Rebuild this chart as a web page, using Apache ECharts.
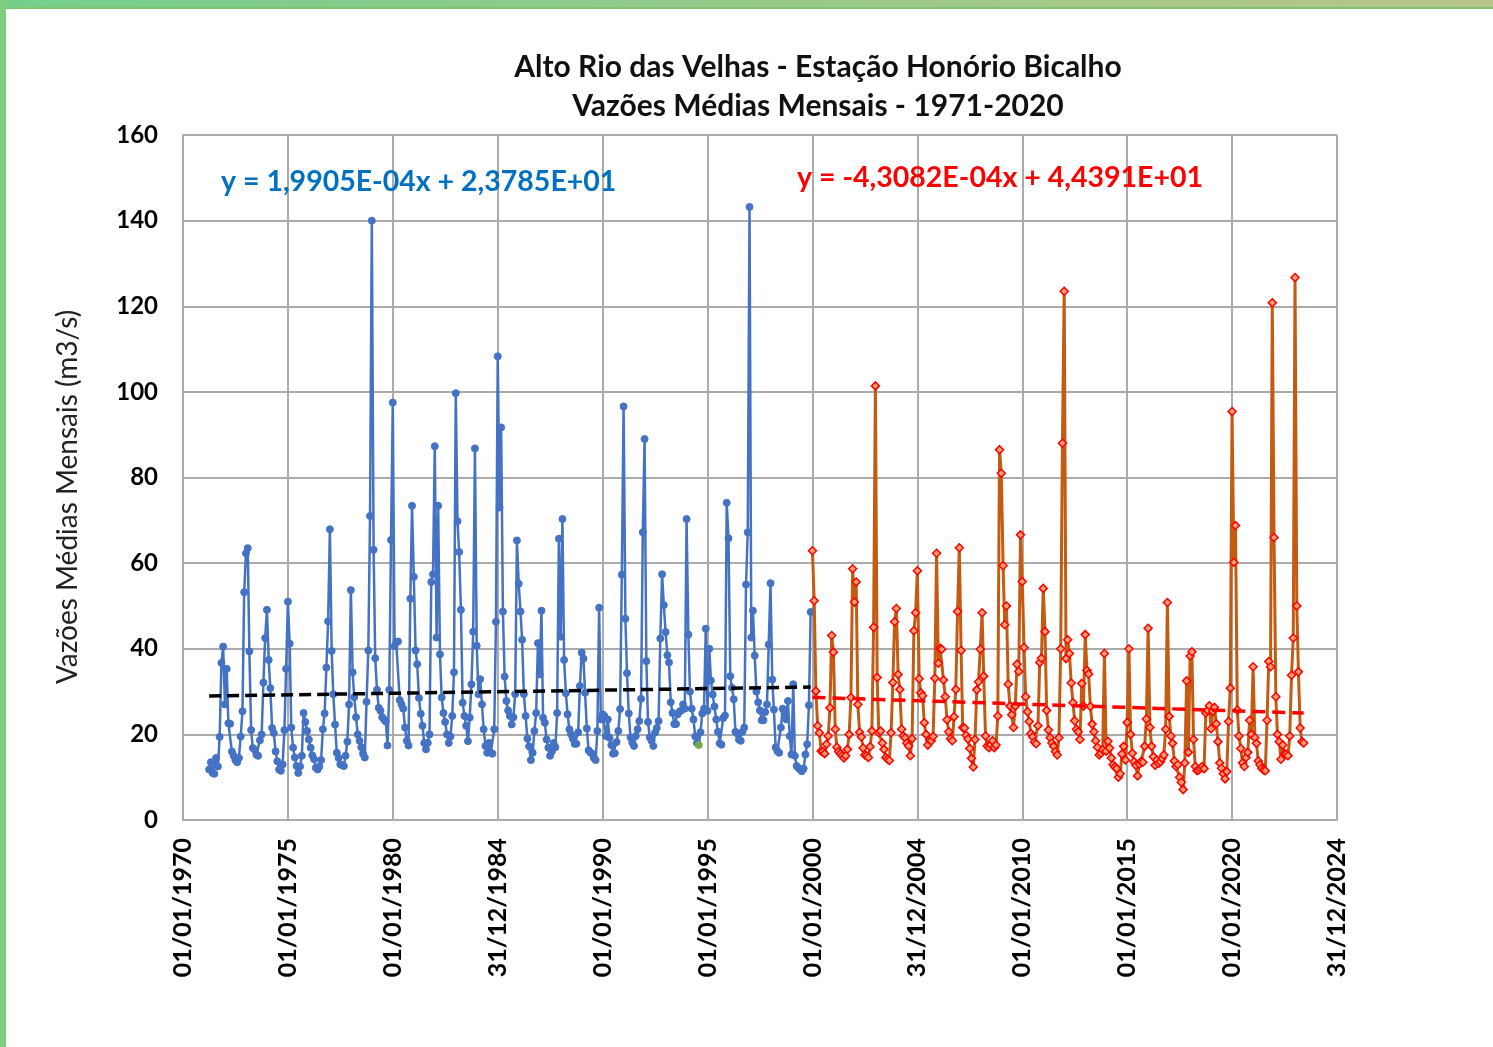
<!DOCTYPE html>
<html>
<head>
<meta charset="utf-8">
<script src="https://cdn.jsdelivr.net/npm/echarts@6/dist/echarts.min.js"></script>
<style>
html,body{margin:0;padding:0;background:#fff;}
#chart{width:1493px;height:1047px;}
</style>
</head>
<body>
<div id="chart"></div>
<script>
// ---- Data (monthly mean flows, m3/s) ----
const titleText = 'Alto Rio das Velhas - Estação Honório Bicalho\nVazões Médias Mensais - 1971-2020';
const yAxisName = 'Vazões Médias Mensais (m3/s)';
const blueEquation = 'y = 1,9905E-04x + 2,3785E+01';
const redEquation = 'y = -4,3082E-04x + 4,4391E+01';
const blueTrend = {slope: 1.9905e-4, intercept: 23.785};
const redTrend = {slope: -4.3082e-4, intercept: 44.391};

// Blue series: starts April 1971
const blueStart = [1971, 4];
const blue1971_1979 = [
  11.8, 13.5, 11.0, 10.8, 14.5, 12.5, 19.4, 36.7, 40.5,
  27.0, 35.3, 22.6, 22.5, 16.0, 15.0, 14.0, 13.5, 14.5, 19.5, 25.4, 53.2,
  62.3, 63.5, 39.4, 21.0, 16.8, 16.4, 15.3, 15.0, 18.6, 20.0, 32.1, 42.5,
  49.1, 37.4, 30.8, 21.5, 20.3, 16.0, 13.7, 11.8, 11.5, 13.0, 21.0, 35.3,
  51.0, 41.2, 21.6, 16.9, 14.6, 12.6, 11.0, 12.5, 15.0, 25.0, 22.9, 20.8,
  18.8, 16.9, 15.1, 14.2, 12.2, 11.8, 12.5, 14.0, 21.2, 24.9, 35.6, 46.4,
  67.9, 39.5, 29.4, 22.3, 15.7, 14.5, 13.0, 12.8, 12.6, 15.0, 18.3, 27.0,
  53.7, 34.5, 28.7, 24.0, 20.0, 18.5, 17.0, 15.5, 14.6, 27.6, 39.6, 71.0,
  140.0, 63.1, 37.8, 30.4, 26.2, 25.5, 24.0, 23.5, 23.0, 17.4, 30.4, 65.4
];
const blue1980_1989 = [
  97.5, 40.6, 41.5, 41.7, 28.0, 27.0, 26.0, 21.6, 18.5, 17.4, 51.7, 73.4,
  56.8, 39.6, 36.4, 28.5, 24.8, 22.0, 18.0, 16.5, 18.0, 20.0, 55.6, 57.4,
  87.3, 42.6, 73.4, 38.7, 28.6, 25.0, 22.9, 20.0, 18.0, 19.5, 24.3, 34.5,
  99.7, 69.8, 62.6, 49.1, 27.4, 24.3, 22.0, 18.4, 23.9, 31.7, 44.0, 86.8,
  40.7, 29.4, 32.9, 27.0, 21.2, 17.3, 15.7, 18.0, 15.7, 15.5, 21.2, 46.3,
  108.3, 73.0, 91.7, 48.7, 33.5, 27.8, 25.6, 24.3, 22.3, 24.0, 29.4, 65.3,
  55.2, 48.7, 42.1, 29.4, 24.3, 19.0, 17.2, 14.0, 15.7, 20.8, 25.0, 41.3,
  34.0, 48.9, 23.9, 22.7, 18.8, 16.9, 15.0, 16.0, 18.0, 17.0, 25.0, 65.7,
  42.8, 70.3, 37.4, 29.6, 24.7, 21.2, 20.0, 19.0, 17.8, 17.8, 20.5, 31.3,
  39.1, 37.7, 29.7, 21.4, 16.3, 15.8, 15.5, 14.5, 14.0, 20.8, 49.6, 23.5
];
const blue1990_1999 = [
  24.7, 24.3, 19.6, 23.5, 19.2, 17.5, 15.5, 15.6, 18.2, 20.8, 25.9, 57.3,
  96.6, 47.0, 34.3, 24.9, 19.3, 18.1, 17.3, 19.6, 21.2, 23.1, 28.3, 67.2,
  89.0, 37.1, 22.9, 19.3, 18.5, 17.3, 20.4, 21.5, 23.1, 42.4, 57.4, 50.2,
  43.9, 38.5, 36.8, 27.5, 25.0, 22.4, 22.4, 24.7, 25.3, 25.6, 27.0, 26.0,
  70.3, 43.3, 30.0, 26.0, 23.5, 19.5, 18.0, 17.5, 20.5, 24.9, 26.0, 44.7,
  25.5, 40.0, 32.6, 29.3, 26.5, 23.5, 20.6, 17.9, 17.6, 23.8, 24.4, 74.1,
  65.8, 33.6, 30.9, 28.2, 20.6, 20.2, 18.8, 18.5, 20.6, 21.6, 55.0, 67.2,
  143.2, 42.6, 48.9, 38.4, 30.0, 27.5, 25.6, 23.3, 23.3, 25.2, 27.0, 41.0,
  55.3, 32.8, 25.8, 17.0, 16.1, 15.7, 21.6, 26.0, 25.0, 23.5, 27.8, 19.6,
  15.3, 31.7, 15.0, 12.6, 12.2, 11.8, 11.4, 12.0, 15.3, 17.7, 26.8, 48.6
];
// highlighted (green) point
const greenPoint = [1994, 8, 17.5];

// Orange series: starts January 2000
const orangeStart = [2000, 1];
const orange2000_2009 = [
  62.9, 51.2, 30.1, 22.0, 20.4, 16.1, 16.0, 15.5, 17.7, 19.6, 26.2, 43.1,
  39.2, 21.2, 17.0, 16.0, 15.5, 15.0, 14.5, 15.0, 16.5, 20.0, 28.6, 58.7,
  50.9, 55.6, 27.0, 20.5, 19.4, 16.8, 15.2, 15.0, 14.6, 17.1, 20.8, 45.0,
  101.4, 33.3, 20.4, 20.8, 18.0, 16.5, 14.6, 14.2, 13.9, 20.4, 32.1, 46.3,
  49.4, 34.0, 30.5, 21.2, 19.6, 19.2, 18.0, 17.3, 15.0, 19.0, 44.2, 48.4,
  58.2, 33.0, 29.7, 29.0, 22.7, 20.0, 17.5, 18.7, 18.5, 19.5, 33.1, 62.3,
  36.6, 40.1, 39.9, 32.7, 28.8, 23.4, 20.6, 19.0, 18.5, 24.1, 30.5, 48.7,
  63.6, 39.6, 21.6, 21.5, 19.8, 18.9, 16.7, 14.4, 12.4, 18.8, 30.4, 32.3,
  39.9, 48.4, 33.6, 19.6, 17.3, 16.9, 17.6, 18.5, 16.9, 17.5, 24.3, 86.5,
  81.0, 59.4, 45.6, 50.0, 31.7, 26.6, 24.6, 21.6, 26.6, 36.4, 34.7, 66.6
];
const orange2010_2019 = [
  55.7, 40.3, 28.8, 25.3, 23.0, 20.2, 19.4, 18.2, 17.8, 22.0, 36.8, 37.8,
  54.1, 44.0, 25.6, 21.0, 19.2, 18.0, 17.2, 16.0, 15.2, 19.2, 40.0, 88.0,
  123.5, 37.7, 42.1, 38.9, 32.0, 27.4, 23.2, 21.2, 20.6, 18.8, 31.9, 26.6,
  43.3, 34.9, 34.1, 26.5, 22.4, 20.6, 18.5, 17.0, 15.2, 15.6, 16.4, 38.9,
  16.1, 18.4, 16.8, 14.5, 12.9, 12.4, 12.0, 10.0, 10.8, 15.4, 17.2, 14.0,
  22.8, 40.0, 20.0, 15.6, 13.6, 12.8, 10.3, 13.1, 13.7, 13.5, 17.2, 23.6,
  44.8, 21.6, 17.2, 14.8, 12.8, 14.0, 13.2, 13.6, 14.4, 15.2, 21.2, 50.8,
  24.2, 19.6, 17.9, 13.8, 12.5, 12.9, 10.0, 8.8, 7.1, 13.3, 32.5, 15.8,
  38.3, 39.3, 18.8, 12.5, 11.5, 11.7, 12.1, 12.5, 12.0, 25.0, 25.6, 26.7,
  21.3, 25.4, 26.3, 22.5, 18.3, 13.3, 12.1, 10.8, 9.6, 11.3, 23.0, 30.8
];
const orange2020_2023 = [
  95.4, 60.2, 68.8, 25.7, 19.6, 16.7, 13.3, 12.5, 14.6, 15.8, 23.3, 20.0,
  35.8, 19.2, 17.9, 13.8, 12.9, 12.1, 11.7, 11.5, 23.3, 37.0, 35.8, 120.8,
  66.0, 28.8, 20.0, 18.3, 14.2, 17.5, 15.4, 15.4, 15.0, 19.6, 33.8, 42.5,
  126.7, 50.0, 34.6, 21.5, 18.3, 18.0
];

// ---- Build series data ----
function monthly(start, values) {
  return values.map((v, i) => [Date.UTC(start[0], start[1] - 1 + i, 1), v]);
}
const blueValues = blue1971_1979.concat(blue1980_1989, blue1990_1999);
const orangeValues = orange2000_2009.concat(orange2010_2019, orange2020_2023);
const blueData = monthly(blueStart, blueValues).map(p => {
  const d = new Date(p[0]);
  if (d.getUTCFullYear() === greenPoint[0] && d.getUTCMonth() === greenPoint[1] - 1) {
    return {value: p, itemStyle: {color: '#70AD47', borderColor: '#70AD47'}};
  }
  return p;
});
const orangeData = monthly(orangeStart, orangeValues);

const DAY = 86400000;
function excelSerial(ms) { return ms / DAY + 25569; }
function trendPts(tr, data) {
  const first = Array.isArray(data[0]) ? data[0][0] : data[0].value[0];
  const lastItem = data[data.length - 1];
  const last = Array.isArray(lastItem) ? lastItem[0] : lastItem.value[0];
  return [first, last].map(t => [t, tr.slope * excelSerial(t) + tr.intercept]);
}
const blueTrendData = trendPts(blueTrend, blueData);
const redTrendData = trendPts(redTrend, orangeData);

const X_INTERVAL = 1826.25 * DAY;
const X_MAX = 11 * X_INTERVAL;
function pad(n) { return (n < 10 ? '0' : '') + n; }
function fmtDate(v) {
  const d = new Date(v);
  return pad(d.getUTCDate()) + '/' + pad(d.getUTCMonth() + 1) + '/' + d.getUTCFullYear();
}

const FONT = 'Lato, "Open Sans", "DejaVu Sans", sans-serif';
const GRID_COLOR = '#ABABAB';

const chart = echarts.init(document.getElementById('chart'), null, {renderer: 'canvas'});
chart.setOption({
  animation: false,
  backgroundColor: '#ffffff',
  title: {
    text: titleText,
    left: 813,
    top: 43,
    textAlign: 'center',
    textStyle: {fontFamily: FONT, fontSize: 30, fontWeight: 'bold', color: '#111', lineHeight: 39}
  },
  graphic: [
    {type: 'rect', left: 0, top: 0, shape: {width: 1493, height: 8}, style: {fill: new echarts.graphic.LinearGradient(0, 0, 1, 0, [{offset: 0, color: '#74CF8C'}, {offset: 1, color: '#B9C58A'}])}, z: 100},
    {type: 'rect', left: 0, top: 7, shape: {width: 1493, height: 2}, style: {fill: '#7FC46E'}, z: 100},
    {type: 'rect', left: 0, top: 0, shape: {width: 6, height: 1047}, style: {fill: '#7DCF7D'}, z: 100},
    {type: 'text', left: 221, top: 167, style: {text: blueEquation, fill: '#0070C0', font: 'bold 28.5px ' + FONT}, z: 50},
    {type: 'text', left: 797, top: 163, style: {text: redEquation, fill: '#FF0000', font: 'bold 28.5px ' + FONT}, z: 50},
    {type: 'text', x: 68, y: 497, rotation: Math.PI / 2, style: {text: yAxisName, fill: '#222', font: '28px ' + FONT, align: 'center', verticalAlign: 'middle'}, z: 50}
  ],
  grid: {left: 183, right: 156, top: 135, bottom: 227, containLabel: false},
  xAxis: {
    type: 'value',
    min: 0,
    max: X_MAX,
    interval: X_INTERVAL,
    axisLine: {show: true, lineStyle: {color: GRID_COLOR, width: 2}},
    axisTick: {show: false},
    splitLine: {show: true, lineStyle: {color: GRID_COLOR, width: 2}},
    axisLabel: {
      rotate: 90,
      margin: 18,
      formatter: fmtDate,
      fontFamily: FONT, fontSize: 25, fontWeight: 'bold', color: '#000'
    }
  },
  yAxis: {
    type: 'value',
    min: 0,
    max: 160,
    interval: 20,
    axisLine: {show: true, lineStyle: {color: GRID_COLOR, width: 2}},
    axisTick: {show: false},
    splitLine: {show: true, lineStyle: {color: GRID_COLOR, width: 2}},
    axisLabel: {margin: 25, fontFamily: FONT, fontSize: 24, fontWeight: 'bold', color: '#000'}
  },
  series: [
    {
      name: 'blue', type: 'line', data: blueData,
      showSymbol: true, showAllSymbol: true, symbol: 'circle', symbolSize: 7,
      lineStyle: {color: '#4472C4', width: 2.5},
      itemStyle: {color: '#4472C4', borderColor: '#4472C4'},
      z: 2
    },
    {
      name: 'orange', type: 'line', data: orangeData,
      showSymbol: true, showAllSymbol: true, symbol: 'diamond', symbolSize: 8,
      lineStyle: {color: '#C55A11', width: 3},
      itemStyle: {color: '#F0A070', borderColor: '#FF0000', borderWidth: 1.5},
      z: 3
    },
    {
      name: 'trendBlue', type: 'line', data: blueTrendData, showSymbol: false,
      lineStyle: {color: '#000000', width: 3.5, type: [12, 6]}, z: 5
    },
    {
      name: 'trendRed', type: 'line', data: redTrendData, showSymbol: false,
      lineStyle: {color: '#FF0000', width: 3.5, type: [13, 7]}, z: 5
    }
  ]
});
</script>
</body>
</html>
